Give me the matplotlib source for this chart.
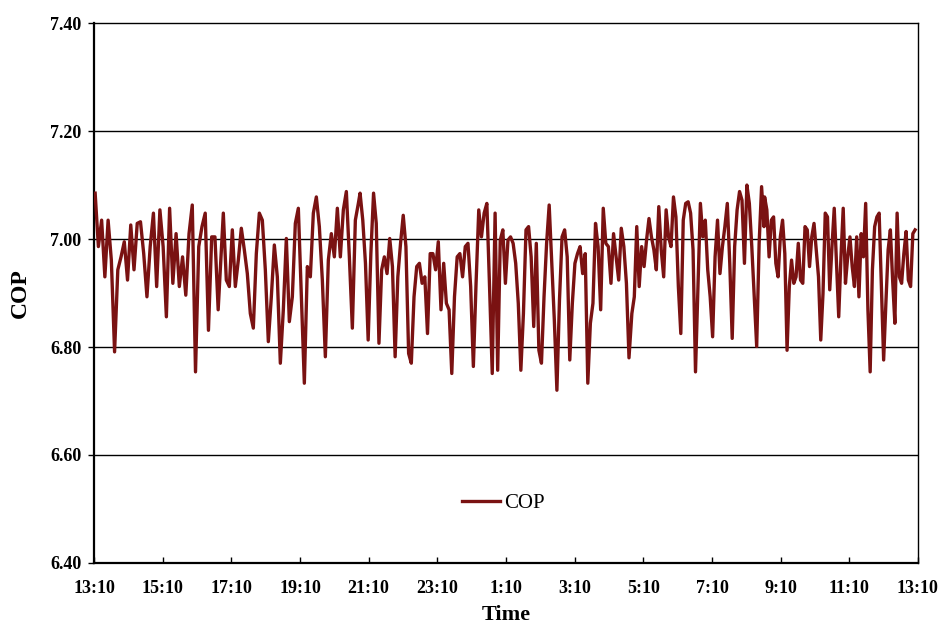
import matplotlib.pyplot as plt
import numpy as np

# COP readings in six consecutive blocks
cop_a = [7.085, 6.986, 7.035, 6.930, 7.035, 6.961, 6.791, 6.943, 6.967, 6.995,
         6.924, 7.026, 6.943, 7.029, 7.032, 6.973, 6.893, 6.986, 7.048, 6.912,
         7.054, 6.986, 6.856, 7.057, 6.918, 7.010, 6.912, 6.967, 6.896, 7.010,
         7.063, 6.754, 6.986, 7.023, 7.048, 6.831, 7.004, 7.004, 6.869]
cop_b = [7.048, 6.924, 6.912, 7.017, 6.912, 6.961, 7.020, 6.980, 6.936, 6.862,
         6.835, 6.973, 7.048, 7.035, 6.943, 6.810, 6.893, 6.989, 6.930, 6.770,
         6.869, 7.001, 6.847, 6.893, 7.029, 7.057, 6.893, 6.733, 6.949, 6.930,
         7.048, 7.078, 7.023, 6.924, 6.782, 6.961, 7.010, 6.967, 7.057, 6.967,
         7.054, 7.088, 6.967, 6.835, 7.035, 7.066]
cop_c = [7.085, 7.035, 6.955, 6.813, 6.973, 7.085, 7.029, 6.807, 6.943, 6.967,
         6.936, 7.001, 6.949, 6.782, 6.930, 6.992, 7.044, 6.986, 6.788, 6.770,
         6.893, 6.949, 6.955, 6.918, 6.930, 6.825, 6.973, 6.973, 6.943, 6.995,
         6.869, 6.955, 6.881, 6.869, 6.751, 6.893, 6.967, 6.973, 6.930, 6.986,
         6.992, 6.912, 6.764, 6.918, 7.054, 7.004, 7.048, 7.066, 6.912, 6.751]
cop_d = [7.048, 6.757, 6.998, 7.017, 6.918, 6.998, 7.004, 6.992, 6.955, 6.881,
         6.757, 6.862, 7.017, 7.023, 6.967, 6.838, 6.992, 6.794, 6.770, 6.893,
         6.992, 7.063, 6.955, 6.850, 6.720, 6.887, 7.004, 7.017, 6.967, 6.776,
         6.881, 6.955, 6.973, 6.986, 6.936, 6.973, 6.733, 6.844, 6.881, 7.029,
         6.986, 6.869, 7.057, 6.992, 6.986, 6.918, 7.010, 6.967, 6.924, 7.020,
         6.986, 6.918, 6.780]
cop_e = [6.862, 6.893, 7.023, 6.912, 6.986, 6.949, 6.998, 7.038, 7.004, 6.980,
         6.943, 7.060, 6.980, 6.930, 7.054, 7.004, 6.986, 7.078, 7.041, 6.912,
         6.825, 7.035, 7.066, 7.069, 7.048, 6.980, 6.754, 6.912, 7.066, 7.004,
         7.035, 6.943, 6.893, 6.819, 6.967, 7.035, 6.936, 6.986, 7.023, 7.066,
         6.955, 6.816, 6.986, 7.054, 7.088, 7.072, 6.955, 7.100, 7.066, 6.986,
         6.893, 6.801, 6.992, 7.097, 7.023]
cop_f = [7.078, 7.054, 6.967, 7.035, 7.041, 6.955, 6.930, 7.004, 7.035, 6.973,
         6.794, 6.912, 6.961, 6.918, 6.930, 6.992, 6.924, 6.918, 7.023, 7.017,
         6.949, 7.004, 7.029, 6.980, 6.930, 6.813, 6.899, 7.048, 7.041, 6.906,
         6.986, 7.057, 6.955, 6.856, 6.967, 7.057, 6.918, 6.967, 7.004, 6.949,
         6.912, 7.004, 6.893, 7.010, 6.967, 7.066, 6.869, 6.754, 6.943, 7.023,
         7.041, 7.048, 6.912, 6.776, 6.881, 6.980, 7.017, 6.924, 6.844, 7.048,
         6.930, 6.918, 6.973, 7.014, 6.924, 6.912, 7.010, 7.017]

# clock time of first and last reading in each block
block_times = [("13:12", "16:47"), ("16:56", "20:52"), ("20:55", "00:46"),
               ("00:51", "04:45"), ("04:50", "08:41"), ("08:42", "13:05")]

tick_labels = ["13:10", "15:10", "17:10", "19:10", "21:10", "23:10", "1:10",
               "3:10", "5:10", "7:10", "9:10", "11:10", "13:10"]
y_ticks = [6.40, 6.60, 6.80, 7.00, 7.20, 7.40]


def minutes_after_start(clock):
    # minutes elapsed since 13:10 (wraps past midnight)
    h, m = clock.split(":")
    return (int(h) * 60 + int(m) - (13 * 60 + 10)) % 1440


t_all = []
v_all = []
for (start, end), vals in zip(block_times, [cop_a, cop_b, cop_c, cop_d, cop_e, cop_f]):
    t_all.extend(np.linspace(minutes_after_start(start), minutes_after_start(end), len(vals)))
    v_all.extend(vals)

plt.rcParams['font.family'] = ['Liberation Serif', 'DejaVu Serif']

fig = plt.figure(figsize=(9.41, 6.24), dpi=100)
ax = fig.add_axes([0.0999, 0.0978, 0.8756, 0.8652])

for y in y_ticks[1:-1]:
    ax.axhline(y, color='black', lw=1.0, zorder=1)

ax.plot(t_all, v_all, color='#7a1212', lw=2.4, label='COP', zorder=3)

ax.set_xlim(0, 1440)
ax.set_ylim(6.40, 7.40)
ax.set_xticks(np.arange(0, 1441, 120))
ax.set_xticklabels(tick_labels, fontsize=13, fontweight='bold')
ax.set_yticks(y_ticks)
ax.set_yticklabels([f"{v:.2f}" for v in y_ticks], fontsize=13, fontweight='bold')
ax.tick_params(axis='x', direction='in', length=4, width=1, pad=12)
ax.tick_params(axis='y', direction='out', length=4, width=1, pad=5)

for side in ['top', 'right']:
    ax.spines[side].set_linewidth(1.0)
for side in ['left', 'bottom']:
    ax.spines[side].set_linewidth(1.6)

ax.set_xlabel("Time", fontsize=16, fontweight='bold', labelpad=6)
ax.set_ylabel("COP", fontsize=17, fontweight='bold', labelpad=14)

ax.legend(loc='center', bbox_to_anchor=(0.497, 0.11), frameon=False,
          fontsize=15, handlelength=1.8, handletextpad=0.2)

fig.savefig("out.png", dpi=100)
